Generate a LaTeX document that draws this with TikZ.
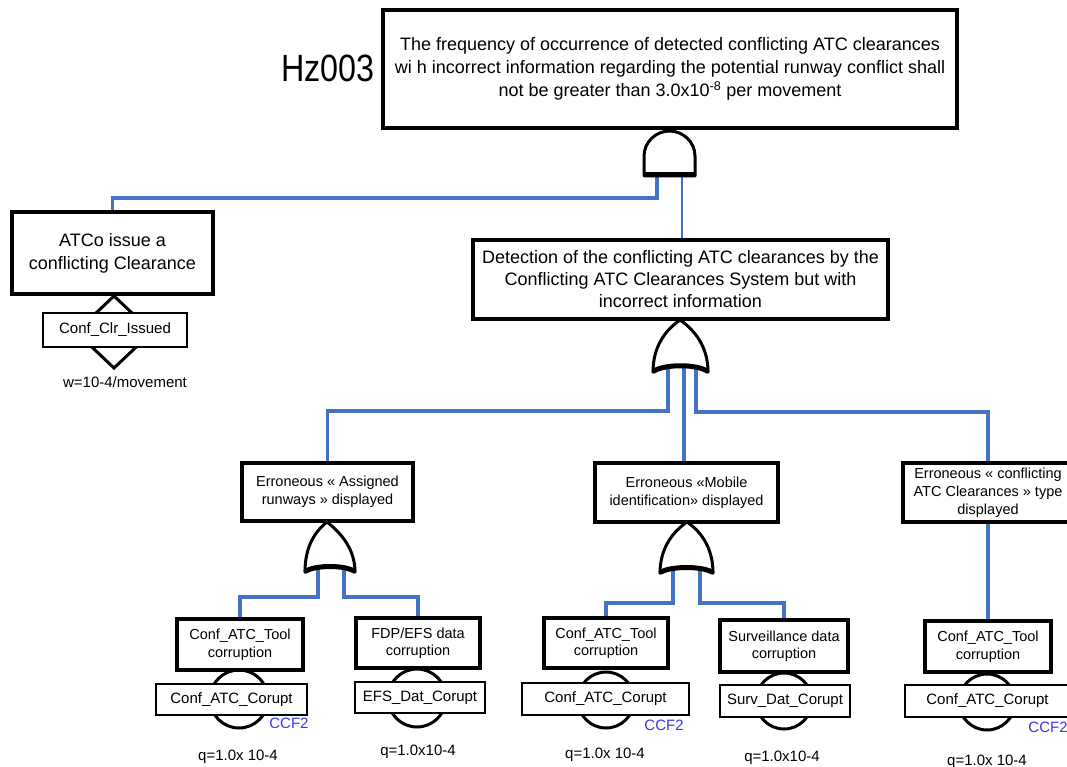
\documentclass[tikz,border=0pt]{standalone}
\usepackage{fontspec}
\setmainfont{Liberation Sans}
\usepackage{graphicx}
\definecolor{wireblue}{RGB}{68,114,196}
\definecolor{ccfblue}{RGB}{55,55,235}
\pgfdeclarelayer{background}
\pgfsetlayers{background,main}
\begin{document}
\begin{tikzpicture}[x=1pt,y=-1pt,
  evt/.style={draw=black, line width=4.5pt, fill=white, align=center, inner sep=0pt},
  leaf/.style={draw=black, line width=4pt, fill=white, align=center, inner sep=0pt,
    font=\fontsize{14.5}{17.5}\selectfont},
  basic/.style={draw=black, line width=2.8pt, fill=white, inner sep=0pt,
    font=\fontsize{15}{18}\selectfont},
  wire/.style={draw=wireblue, line width=3.2pt},
  gatepath/.style={draw=black, line width=3pt, fill=white, line join=round},
  gatebase/.style={draw=black, line width=5pt, line cap=round},
  cond/.style={draw=black, line width=3pt, fill=white},
  lbl/.style={inner sep=0pt, font=\fontsize{15}{18}\selectfont},
  ccf/.style={inner sep=0pt, text=ccfblue, font=\fontsize{15}{18}\selectfont}]
\useasboundingbox (0,0) rectangle (1067,767);

% ---------- top event ----------
\node[evt, minimum width=574, minimum height=118, font=\fontsize{18}{23}\selectfont]
  (top) at (670,69)
  {The frequency of occurrence of detected conflicting ATC clearances\\
   wi h incorrect information regarding the potential runway conflict shall\\
   not be greater than 3.0x10\textsuperscript{-8} per movement};
\node[inner sep=0pt] (hz) at (328,68) {\scalebox{0.85}[1]{\fontsize{38}{40}\selectfont Hz003}};

% AND gate below the top event
\draw[gatepath] (644,176) -- (644,156) .. controls (644,142) and (656,131) .. (669.5,131)
  .. controls (683,131) and (695,142) .. (695,156) -- (695,176) -- cycle;
\draw[line width=5pt, line cap=butt] (643,175) -- (696,175);
\coordinate (andA) at (657,177);
\coordinate (andB) at (682,177);

% ---------- ATCo branch ----------
\draw[cond] (114,296) -- (152,332) -- (114,368) -- (76,332) -- cycle;
\node[evt, minimum width=201, minimum height=82, font=\fontsize{18}{23}\selectfont]
  (atco) at (112.5,253) {ATCo issue a\\conflicting Clearance};
\node[basic, minimum width=144, minimum height=34] (clr) at (115,330) {Conf\_Clr\_Issued};
\node[lbl] (w) at (125,382) {w=10-4/movement};

% ---------- detection ----------
\node[evt, minimum width=415, minimum height=79, font=\fontsize{18}{22}\selectfont]
  (det) at (680.5,279.5)
  {Detection of the conflicting ATC clearances by the\\
   Conflicting ATC Clearances System but with\\
   incorrect information};

% OR gate below detection
\draw[gatepath] (653,372) .. controls (653,348) and (664,331) .. (680,320)
  .. controls (696,331) and (708,348) .. (708,372)
  .. controls (696,364) and (665,364) .. (653,372) -- cycle;
\draw[gatebase] (654,371) .. controls (665,364) and (696,364) .. (707,371);
\coordinate (orDa) at (668,367);
\coordinate (orDb) at (684,366);
\coordinate (orDc) at (696,367);

% ---------- second level events ----------
\node[evt, line width=4pt, minimum width=171, minimum height=58, font=\fontsize{14.5}{18}\selectfont]
  (asg) at (327.5,492) {Erroneous « Assigned\\runways » displayed};
\node[evt, line width=4pt, minimum width=183, minimum height=59, font=\fontsize{14.5}{18}\selectfont]
  (mob) at (686.5,492.5) {Erroneous «Mobile\\identification» displayed};
\node[evt, line width=4pt, minimum width=170, minimum height=59, font=\fontsize{14.5}{18}\selectfont]
  (typ) at (988,492.5) {Erroneous « conflicting\\ATC Clearances » type\\displayed};

% OR gates of the second level
\draw[gatepath] (305,572) .. controls (305,549) and (313,533) .. (327,522)
  .. controls (341,533) and (355,549) .. (355,572)
  .. controls (344,565) and (316,565) .. (305,572) -- cycle;
\draw[gatebase] (306,571) .. controls (316,565) and (344,565) .. (354,571);
\coordinate (orAa) at (318,568);
\coordinate (orAb) at (344,568);
\draw[gatepath] (660,573) .. controls (660,550) and (671,533) .. (687,522)
  .. controls (703,533) and (713,550) .. (713,573)
  .. controls (701,566) and (672,566) .. (660,573) -- cycle;
\draw[gatebase] (661,572) .. controls (672,566) and (701,566) .. (712,572);
\coordinate (orMa) at (673,569);
\coordinate (orMb) at (700,569);

% ---------- basic events ----------
\draw[cond] (239,699) circle[radius=29];
\draw[cond] (417,698) circle[radius=29];
\draw[cond] (606,700) circle[radius=28];
\draw[cond] (784,701) circle[radius=28];
\draw[cond] (987,702) circle[radius=28];

\node[leaf, minimum width=126, minimum height=51] (t1) at (240,644.5) {Conf\_ATC\_Tool\\corruption};
\node[leaf, minimum width=124, minimum height=50] (t2) at (418,643) {FDP/EFS data\\corruption};
\node[leaf, minimum width=124, minimum height=50] (t3) at (606,643) {Conf\_ATC\_Tool\\corruption};
\node[leaf, minimum width=128, minimum height=52] (t4) at (784,646) {Surveillance data\\corruption};
\node[leaf, minimum width=126, minimum height=51] (t5) at (988,646.5) {Conf\_ATC\_Tool\\corruption};

\node[basic, minimum width=151, minimum height=31] (b1) at (231.5,699.5) {Conf\_ATC\_Corupt};
\node[basic, minimum width=130, minimum height=31] (b2) at (420,697.5) {EFS\_Dat\_Corupt};
\node[basic, minimum width=167, minimum height=32] (b3) at (605.5,699) {Conf\_ATC\_Corupt};
\node[basic, minimum width=130, minimum height=32] (b4) at (785,701) {Surv\_Dat\_Corupt};
\node[basic, minimum width=165, minimum height=32] (b5) at (987.5,701) {Conf\_ATC\_Corupt};

\node[ccf] (c1) at (289,723) {CCF2};
\node[ccf] (c3) at (664,725) {CCF2};
\node[ccf] (c5) at (1048,727) {CCF2};

\node[lbl] (q1) at (238,757) {q=1.0x 10-4};
\node[lbl] (q2) at (418,752) {q=1.0x10-4};
\node[lbl] (q3) at (605,755) {q=1.0x 10-4};
\node[lbl] (q4) at (782,758) {q=1.0x10-4};
\node[lbl] (q5) at (987,762) {q=1.0x 10-4};

% ---------- connectors ----------
\begin{pgfonlayer}{background}
\draw[wire] (andA) -- ++(0,21) -| (atco.north);
\draw[wire, line width=2.4pt] (andB) -- (andB |- det.north);
\draw[wire] (orDa) -- ++(0,44) -| (asg.north);
\draw[wire] (orDb) -- (orDb |- mob.north);
\draw[wire] (orDc) -- ++(0,45) -| (typ.north);
\draw[wire] (orAa) -- ++(0,29) -| (t1.north);
\draw[wire] (orAb) -- ++(0,29) -| (t2.north);
\draw[wire] (orMa) -- ++(0,34) -| (t3.north);
\draw[wire] (orMb) -- ++(0,34) -| (t4.north);
\draw[wire] (typ.south) -- (t5.north);
\end{pgfonlayer}
\end{tikzpicture}
\end{document}
